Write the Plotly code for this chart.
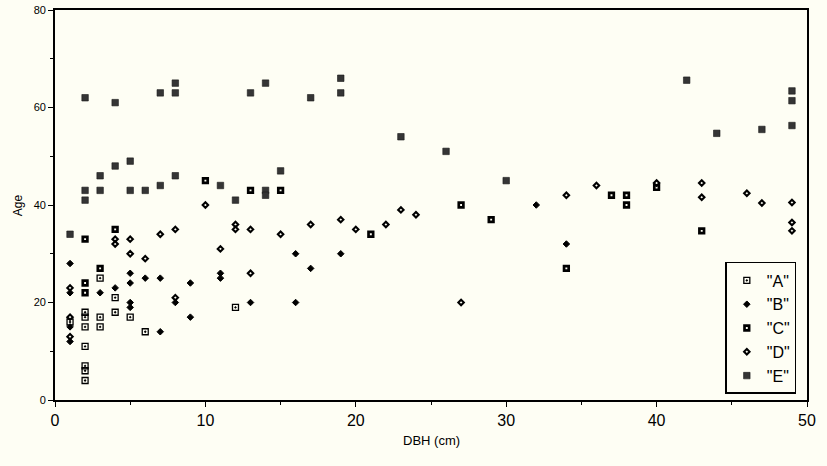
import plotly.graph_objects as go

# ---- data (DBH in cm, Age in years) ----
A_x = [1, 2, 2, 2, 2, 2, 2, 2, 3, 3, 3, 4, 4, 5, 6, 12]
A_y = [16, 18, 17, 15, 11, 7, 6, 4, 25, 17, 15, 21, 18, 17, 14, 19]

B_x = [1, 1, 1, 1, 3, 4, 5, 5, 5, 5, 6, 7, 7, 8, 9, 9, 11, 11, 13, 16, 16, 17, 19, 32, 34]
B_y = [28, 22, 15, 12, 22, 23, 26, 24, 20, 19, 25, 25, 14, 20, 24, 17, 26, 25, 20, 30, 20, 27, 30, 40, 32]

C_x = [2, 2, 2, 3, 4, 10, 13, 15, 21, 27, 29, 34, 37, 38, 38, 40, 43]
C_y = [33, 24, 22, 27, 35, 45, 43, 43, 34, 40, 37, 27, 42, 42, 40, 43.6, 34.7]

D_x = [1, 1, 1, 4, 4, 5, 5, 6, 7, 8, 8, 10, 11, 12, 12, 13, 13, 15, 17, 19, 20, 22, 23, 24,
       27, 34, 36, 40, 43, 43, 46, 47, 49, 49, 49]
D_y = [23, 17, 13, 33, 32, 33, 30, 29, 34, 35, 21, 40, 31, 36, 35, 35, 26, 34, 36, 37, 35, 36, 39, 38,
       20, 42, 44, 44.5, 44.5, 41.6, 42.4, 40.4, 40.5, 36.4, 34.7]

E_x = [1, 2, 2, 2, 3, 3, 4, 4, 5, 5, 6, 7, 7, 8, 8, 8, 11, 12, 13, 14, 14, 14, 15, 17, 19, 19,
       23, 26, 30, 42, 44, 47, 49, 49, 49]
E_y = [34, 62, 43, 41, 46, 43, 61, 48, 49, 43, 43, 63, 44, 65, 63, 46, 44, 41, 63, 65, 43, 42, 47, 62, 66, 63,
       54, 51, 45, 65.6, 54.7, 55.5, 63.4, 61.4, 56.3]

series_names = ['"A"', '"B"', '"C"', '"D"', '"E"']

x_ticks = [0, 10, 20, 30, 40, 50]
y_ticks = [0, 20, 40, 60, 80]

BG = "#fefef4"
FONT = "Liberation Sans, Arial, sans-serif"

fig = go.Figure()

fig.add_trace(go.Scatter(
    x=A_x, y=A_y, mode="markers", name=series_names[0],
    marker=dict(symbol="square-open-dot", size=6, color="black", line=dict(width=1.3, color="black")),
))
fig.add_trace(go.Scatter(
    x=B_x, y=B_y, mode="markers", name=series_names[1],
    marker=dict(symbol="diamond", size=5, color="black", line=dict(width=1, color="black")),
))
fig.add_trace(go.Scatter(
    x=C_x, y=C_y, mode="markers", name=series_names[2],
    marker=dict(symbol="square", size=4.6, color=BG, line=dict(width=2.7, color="black")),
))
fig.add_trace(go.Scatter(
    x=D_x, y=D_y, mode="markers", name=series_names[3],
    marker=dict(symbol="diamond", size=4.2, color=BG, line=dict(width=2.1, color="black")),
))
fig.add_trace(go.Scatter(
    x=E_x, y=E_y, mode="markers", name=series_names[4],
    marker=dict(symbol="square", size=6.5, color="#353535", line=dict(width=0.6, color="#1a1a1a")),
))

fig.update_layout(
    width=827, height=466,
    margin=dict(l=55, r=20, t=10, b=66),
    paper_bgcolor=BG, plot_bgcolor=BG,
    font=dict(family=FONT, color="black"),
    showlegend=True,
    legend=dict(
        x=0.9858, y=0.0154, xanchor="right", yanchor="bottom",
        bgcolor=BG, bordercolor="black", borderwidth=1.5,
        font=dict(size=16, family=FONT),
    ),
    xaxis=dict(
        range=[0, 50], tickvals=x_ticks, ticks="outside", ticklen=5, tickwidth=1.3,
        tickcolor="black", showline=True, linecolor="black", linewidth=1.5, mirror=True,
        showgrid=False, zeroline=False, tickfont=dict(size=16), automargin=False,
        minor=dict(dtick=5, ticks="outside", ticklen=3, tickwidth=1, tickcolor="black", showgrid=False),
    ),
    yaxis=dict(
        range=[0, 80], tickvals=y_ticks, ticks="outside", ticklen=5, tickwidth=1.3,
        tickcolor="black", showline=True, linecolor="black", linewidth=1.8, mirror=True,
        showgrid=False, zeroline=False, tickfont=dict(size=11), automargin=False,
        minor=dict(dtick=10, ticks="outside", ticklen=3, tickwidth=1, tickcolor="black", showgrid=False),
    ),
    annotations=[
        dict(text="DBH (cm)", xref="paper", yref="paper", x=0.5, y=-0.103,
             xanchor="center", yanchor="middle", showarrow=False, font=dict(size=13)),
        dict(text="Age", xref="paper", yref="paper", x=-0.049, y=0.5, textangle=-90,
             xanchor="center", yanchor="middle", showarrow=False, font=dict(size=12)),
    ],
)

fig.write_html(
    "out.html",
    config={"displayModeBar": False},
    post_script="document.body.style.margin='0';document.body.style.background='" + BG + "';",
)
